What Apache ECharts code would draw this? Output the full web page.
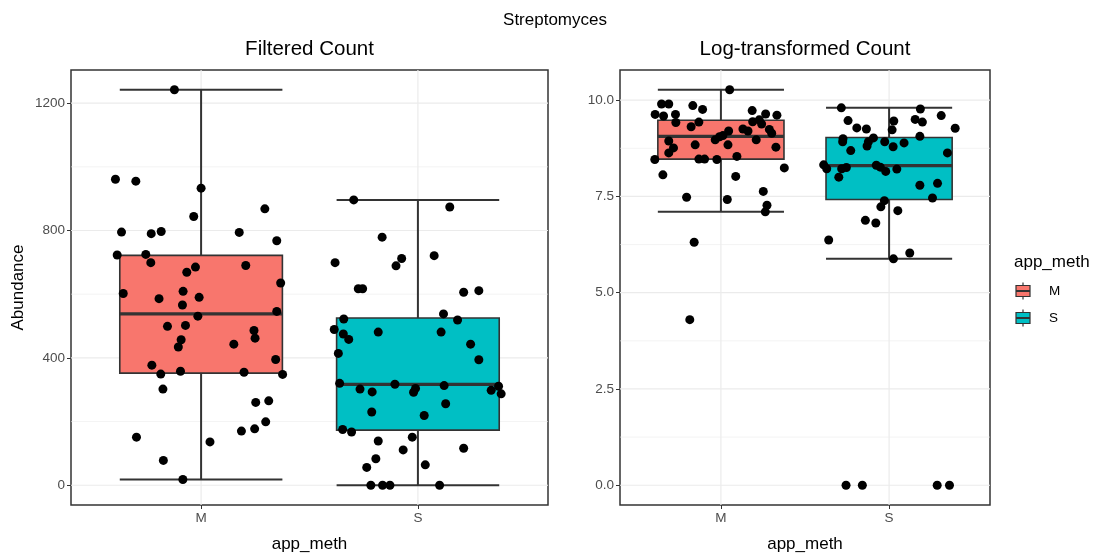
<!DOCTYPE html>
<html>
<head>
<meta charset="utf-8">
<script src="https://cdn.jsdelivr.net/npm/echarts@6/dist/echarts.min.js"></script>
<style>
  html, body { margin: 0; padding: 0; background: #ffffff; }
  #chart { width: 1100px; height: 558px; }
</style>
</head>
<body>
<div id="chart"></div>
<script>
// ---- data -----------------------------------------------------------------
const groups = ['M', 'S'];

const countTicks = [0, 400, 800, 1200];
const countMinor = [200, 600, 1000];
const logTicks = [0, 2.5, 5, 7.5, 10];
const logMinor = [1.25, 3.75, 6.25, 8.75];

// five-number summaries: [lower whisker, Q1, median, Q3, upper whisker]
const countBoxM = [18, 352, 538, 722, 1242];
const countBoxS = [0, 173, 317, 525, 896];
const logBoxM = [7.10, 8.47, 9.06, 9.48, 10.27];
const logBoxS = [5.88, 7.42, 8.30, 9.03, 9.80];

// jittered observations: [x position, value]
const countPointsM = [
  [0.877, 1242], [0.605, 961], [0.699, 955], [1.000, 933], [0.966, 844], [1.294, 868],
  [0.633, 795], [0.770, 790], [0.816, 797], [1.176, 794], [1.349, 768], [0.613, 723],
  [0.745, 725], [0.768, 699], [0.934, 669], [0.974, 685], [1.206, 690], [1.367, 635],
  [0.641, 602], [0.806, 586], [0.917, 609], [0.991, 590], [0.914, 566], [0.985, 531],
  [1.349, 546], [0.845, 499], [0.928, 502], [0.908, 457], [0.895, 434], [1.151, 443],
  [1.244, 486], [1.249, 462], [0.773, 377], [0.814, 349], [0.905, 358], [1.198, 355],
  [1.344, 395], [1.376, 348], [0.824, 302], [1.252, 260], [1.312, 265], [1.298, 199],
  [1.186, 170], [1.247, 177], [0.702, 151], [1.041, 136], [0.826, 78], [0.916, 18]
];
const countPointsS = [
  [1.704, 896], [2.147, 874], [1.835, 779], [1.618, 699], [1.925, 712], [1.899, 689],
  [2.075, 721], [1.725, 617], [1.745, 617], [2.211, 606], [2.281, 611], [2.118, 538],
  [2.183, 519], [1.658, 522], [1.614, 489], [1.656, 475], [1.681, 458], [1.817, 481],
  [2.107, 481], [2.243, 443], [1.633, 414], [2.281, 394], [1.639, 320], [1.894, 317],
  [1.733, 302], [1.789, 293], [1.989, 304], [1.980, 292], [2.121, 313], [2.338, 298],
  [2.372, 311], [2.384, 287], [1.787, 230], [2.029, 219], [2.128, 256], [1.653, 175],
  [1.694, 167], [1.817, 139], [1.974, 151], [1.932, 111], [2.211, 116], [1.806, 83],
  [1.764, 56], [2.034, 64], [1.783, 0], [1.837, 0], [1.871, 0], [2.100, 0]
];
const logPointsM = [
  [1.052, 10.27], [0.647, 9.90], [0.690, 9.90], [0.833, 9.86], [0.891, 9.76], [0.609, 9.63],
  [0.659, 9.59], [0.730, 9.63], [0.732, 9.42], [0.869, 9.43], [0.823, 9.31], [1.186, 9.73],
  [1.266, 9.64], [1.333, 9.61], [1.189, 9.44], [1.228, 9.49], [1.242, 9.38], [1.131, 9.25],
  [1.161, 9.20], [1.046, 9.20], [1.288, 9.24], [1.302, 9.14], [1.012, 9.08], [0.966, 8.97],
  [0.992, 9.05], [1.210, 8.97], [0.690, 8.94], [0.847, 8.84], [1.042, 8.84], [0.718, 8.76],
  [0.690, 8.63], [1.327, 8.78], [1.095, 8.54], [0.607, 8.46], [0.869, 8.47], [0.903, 8.47],
  [0.976, 8.46], [0.655, 8.06], [1.088, 8.02], [0.796, 7.48], [1.038, 7.42], [1.252, 7.63],
  [1.274, 7.27], [1.264, 7.10], [0.841, 6.31], [0.815, 4.30], [1.377, 8.24]
];
const logPointsS = [
  [1.716, 9.80], [2.186, 9.77], [2.310, 9.60], [1.756, 9.47], [2.028, 9.46], [2.155, 9.50],
  [2.198, 9.43], [2.393, 9.27], [1.808, 9.28], [1.865, 9.25], [2.018, 9.23], [2.183, 9.06],
  [1.726, 9.00], [1.724, 8.92], [1.907, 9.02], [1.877, 8.92], [1.869, 8.81], [1.974, 8.92],
  [2.024, 8.79], [2.089, 8.89], [1.772, 8.69], [2.347, 8.63], [1.611, 8.32], [1.629, 8.22],
  [1.718, 8.22], [1.746, 8.25], [1.924, 8.31], [1.948, 8.26], [1.980, 8.15], [2.046, 8.21],
  [1.701, 8.00], [2.183, 7.79], [2.288, 7.84], [2.258, 7.46], [1.972, 7.39], [1.951, 7.23],
  [2.052, 7.13], [1.859, 6.88], [1.921, 6.81], [1.641, 6.37], [2.123, 6.03], [2.026, 5.88],
  [1.744, 0], [1.841, 0], [2.286, 0], [2.359, 0]
];

// ---- styling ---------------------------------------------------------------
const FONT = '"Liberation Sans", Arial, sans-serif';
const FILLS = ['#F8766D', '#00BFC4'];
const INK = '#333333';
const GRID_LINE = '#EBEBEB';
const TICK_TEXT = '#4D4D4D';
const BOX_WIDTH = 0.75;

// ggplot-style 5% expansion of the value range
function expandRange(points, boxes) {
  const vals = points.map(p => p[1]).concat(...boxes);
  const lo = Math.min(...vals), hi = Math.max(...vals);
  const pad = (hi - lo) * 0.05;
  return [lo - pad, hi + pad];
}

const countRange = expandRange(countPointsM.concat(countPointsS), [countBoxM, countBoxS]);
const logRange = expandRange(logPointsM.concat(logPointsS), [logBoxM, logBoxS]);

const groupPos = groups.map((g, i) => i + 1);

function xAxisFor(gridIndex) {
  return {
    type: 'value', gridIndex, min: 0.4, max: 2.6,
    name: 'app_meth', nameLocation: 'middle', nameGap: 31,
    nameTextStyle: { fontFamily: FONT, fontSize: 17, color: '#000' },
    axisLine: { show: false, onZero: false },
    axisTick: { show: true, length: 4, customValues: groupPos, lineStyle: { color: INK, width: 1 } },
    axisLabel: {
      customValues: groupPos, margin: 6,
      formatter: v => groups[Math.round(v) - 1] || '',
      fontFamily: FONT, fontSize: 13.5, color: TICK_TEXT
    },
    splitLine: { show: false }
  };
}

function yAxisFor(gridIndex, range, ticks, fmt, name) {
  return {
    type: 'value', gridIndex, min: range[0], max: range[1],
    name: name || '', nameLocation: 'middle', nameGap: 44, nameRotate: 90,
    nameTextStyle: { fontFamily: FONT, fontSize: 17, color: '#000' },
    axisLine: { show: false, onZero: false },
    axisTick: { show: true, length: 4, customValues: ticks, lineStyle: { color: INK, width: 1 } },
    axisLabel: {
      customValues: ticks, margin: 6, formatter: fmt,
      fontFamily: FONT, fontSize: 13.5, color: TICK_TEXT
    },
    splitLine: { show: false }
  };
}

// panel grid lines drawn across the plotting area through the axis scale
function gridLineSeries(axisIndex, values, horizontal, width) {
  return {
    type: 'custom', xAxisIndex: axisIndex, yAxisIndex: axisIndex, z: 1, silent: true,
    data: values.map(v => [v]),
    dimensions: ['v'],
    encode: horizontal ? { y: 0 } : { x: 0 },
    renderItem(params, api) {
      const cs = params.coordSys;
      const v = api.value(0);
      if (horizontal) {
        const y = api.coord([1, v])[1];
        return { type: 'line', shape: { x1: cs.x, y1: y, x2: cs.x + cs.width, y2: y },
                 style: { stroke: GRID_LINE, lineWidth: width } };
      }
      const x = api.coord([v, 0])[0];
      return { type: 'line', shape: { x1: x, y1: cs.y, x2: x, y2: cs.y + cs.height },
               style: { stroke: GRID_LINE, lineWidth: width } };
    }
  };
}

function boxSeries(axisIndex, boxes) {
  return {
    type: 'custom', xAxisIndex: axisIndex, yAxisIndex: axisIndex, z: 2, silent: true,
    data: boxes.map((b, i) => [groupPos[i]].concat(b)),
    encode: { x: 0, y: [1, 2, 3, 4, 5] },
    renderItem(params, api) {
      const x = api.value(0);
      const half = api.size([BOX_WIDTH, 0])[0] / 2;
      const cx = api.coord([x, api.value(3)])[0];
      const yLo = api.coord([x, api.value(1)])[1];
      const yQ1 = api.coord([x, api.value(2)])[1];
      const yMed = api.coord([x, api.value(3)])[1];
      const yQ3 = api.coord([x, api.value(4)])[1];
      const yHi = api.coord([x, api.value(5)])[1];
      const ln = { stroke: INK, lineWidth: 2 };
      return {
        type: 'group',
        children: [
          { type: 'line', shape: { x1: cx, y1: yHi, x2: cx, y2: yQ3 }, style: ln },
          { type: 'line', shape: { x1: cx, y1: yQ1, x2: cx, y2: yLo }, style: ln },
          { type: 'line', shape: { x1: cx - half, y1: yHi, x2: cx + half, y2: yHi }, style: ln },
          { type: 'line', shape: { x1: cx - half, y1: yLo, x2: cx + half, y2: yLo }, style: ln },
          { type: 'rect', shape: { x: cx - half, y: yQ3, width: half * 2, height: yQ1 - yQ3 },
            style: { fill: FILLS[params.dataIndex], stroke: INK, lineWidth: 1.6 } },
          { type: 'line', shape: { x1: cx - half, y1: yMed, x2: cx + half, y2: yMed },
            style: { stroke: INK, lineWidth: 3.2 } }
        ]
      };
    }
  };
}

function pointSeries(axisIndex, pts) {
  return {
    type: 'scatter', xAxisIndex: axisIndex, yAxisIndex: axisIndex, z: 3, silent: true,
    symbol: 'circle', symbolSize: 9, data: pts,
    itemStyle: { color: '#000000', opacity: 1 }
  };
}

// legend key: small box with median and whisker stubs
function legendKey(y, fill) {
  const x = 1016, w = 14, h = 11;
  return [
    { type: 'line', shape: { x1: x + w / 2, y1: y - h / 2 - 3, x2: x + w / 2, y2: y + h / 2 + 3 },
      style: { stroke: INK, lineWidth: 1.2 } },
    { type: 'rect', shape: { x: x, y: y - h / 2, width: w, height: h },
      style: { fill: fill, stroke: INK, lineWidth: 1.2 } },
    { type: 'line', shape: { x1: x, y1: y, x2: x + w, y2: y }, style: { stroke: INK, lineWidth: 2 } }
  ];
}

const chart = echarts.init(document.getElementById('chart'), null, { renderer: 'canvas' });

chart.setOption({
  animation: false,
  backgroundColor: '#ffffff',
  grid: [
    { left: 71, top: 70, width: 477, height: 443, show: true, borderColor: INK, borderWidth: 1.5,
      backgroundColor: 'transparent', containLabel: false },
    { left: 620, top: 70, width: 370, height: 443, show: true, borderColor: INK, borderWidth: 1.5,
      backgroundColor: 'transparent', containLabel: false }
  ],
  xAxis: [xAxisFor(0), xAxisFor(1)],
  yAxis: [
    yAxisFor(0, countRange, countTicks, v => String(Math.round(v)), 'Abundance'),
    yAxisFor(1, logRange, logTicks, v => v.toFixed(1), '')
  ],
  series: [
    gridLineSeries(0, countMinor, true, 0.6),
    gridLineSeries(0, countTicks, true, 1.2),
    gridLineSeries(0, groupPos, false, 1.2),
    boxSeries(0, [countBoxM, countBoxS]),
    pointSeries(0, countPointsM),
    pointSeries(0, countPointsS),

    gridLineSeries(1, logMinor, true, 0.6),
    gridLineSeries(1, logTicks, true, 1.2),
    gridLineSeries(1, groupPos, false, 1.2),
    boxSeries(1, [logBoxM, logBoxS]),
    pointSeries(1, logPointsM),
    pointSeries(1, logPointsS)
  ],
  graphic: [
    { type: 'text', x: 555, y: 20, style: { text: 'Streptomyces', fontFamily: FONT, fontSize: 17,
      fill: '#000', align: 'center', verticalAlign: 'middle' } },
    { type: 'text', x: 309.5, y: 49.5, style: { text: 'Filtered Count', fontFamily: FONT, fontSize: 20.5,
      fill: '#000', align: 'center', verticalAlign: 'middle' } },
    { type: 'text', x: 805, y: 49.5, style: { text: 'Log-transformed Count', fontFamily: FONT, fontSize: 20.5,
      fill: '#000', align: 'center', verticalAlign: 'middle' } },
    { type: 'text', x: 1014, y: 262, style: { text: 'app_meth', fontFamily: FONT, fontSize: 17,
      fill: '#000', align: 'left', verticalAlign: 'middle' } },
    { type: 'group', children: legendKey(291, FILLS[0]) },
    { type: 'group', children: legendKey(318, FILLS[1]) },
    { type: 'text', x: 1049, y: 291, style: { text: groups[0], fontFamily: FONT, fontSize: 13.5,
      fill: '#000', align: 'left', verticalAlign: 'middle' } },
    { type: 'text', x: 1049, y: 318, style: { text: groups[1], fontFamily: FONT, fontSize: 13.5,
      fill: '#000', align: 'left', verticalAlign: 'middle' } }
  ]
});
</script>
</body>
</html>
